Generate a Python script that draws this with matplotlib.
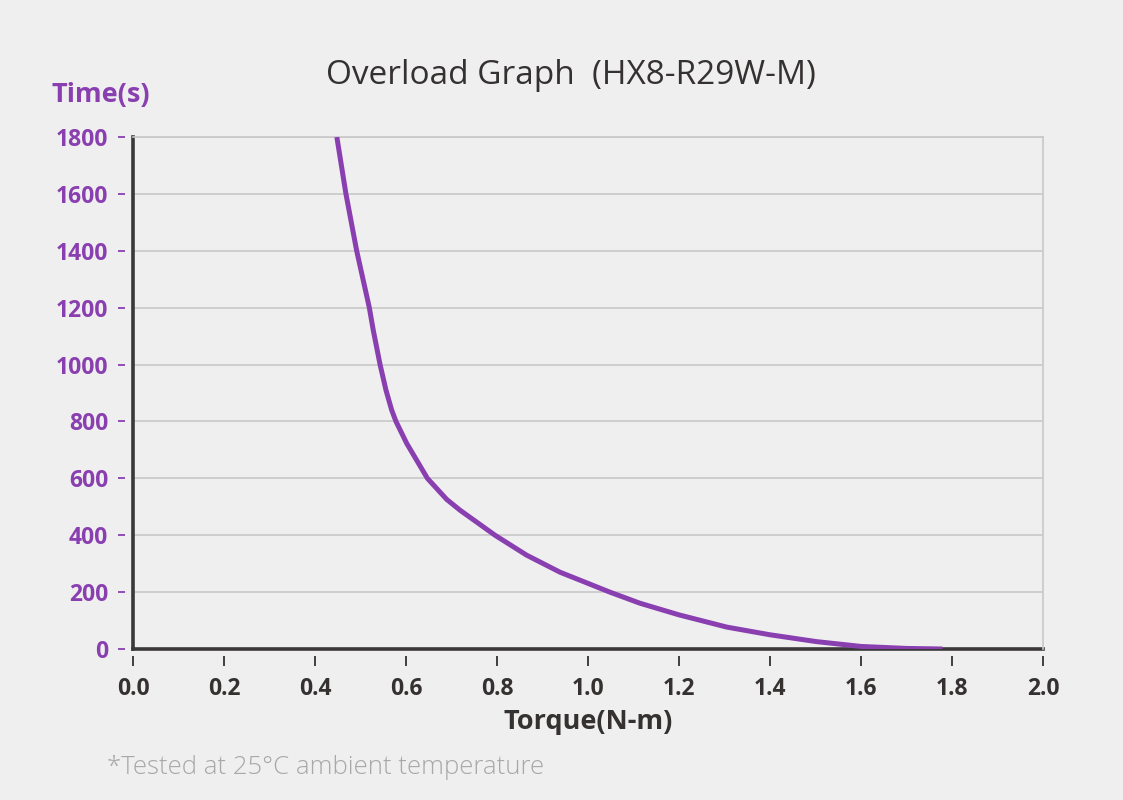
import matplotlib
matplotlib.use("Agg")
import matplotlib.pyplot as plt

# ---- data ----
torque = [0.448, 0.468, 0.4916, 0.5194, 0.528, 0.543, 0.556, 0.5685, 0.578,
          0.6015, 0.647, 0.6894, 0.7187, 0.7956, 0.865, 0.9385, 1.048, 1.114,
          1.200, 1.305, 1.400, 1.502, 1.600, 1.700, 1.779]
time_s = [1800, 1600, 1400, 1200, 1121, 1000, 910, 840, 800,
          723, 600, 526, 488, 400, 330, 270, 200, 161,
          120, 77, 50, 26, 9, 2, 0]

x_ticks = [0.0, 0.2, 0.4, 0.6, 0.8, 1.0, 1.2, 1.4, 1.6, 1.8, 2.0]
y_ticks = [0, 200, 400, 600, 800, 1000, 1200, 1400, 1600, 1800]

title = "Overload Graph  (HX8-R29W-M)"
xlabel = "Torque(N-m)"
ylabel = "Time(s)"
note = "*Tested at 25°C ambient temperature"

# ---- style ----
BG = "#efefef"
PURPLE = "#8a3fb0"
DARK = "#353131"
GRID = "#c8c8c8"
plt.rcParams['font.family'] = ['Open Sans', 'DejaVu Sans']

fig = plt.figure(figsize=(11.23, 8.0), dpi=100, facecolor=BG)
ax = fig.add_axes([133/1123, 1-649/800, (1043-133)/1123, (649-137)/800])
ax.set_facecolor(BG)

ax.set_xlim(0, 2.0)
ax.set_ylim(0, 1800)

ax.yaxis.grid(True, color=GRID, linewidth=1.2)
ax.set_axisbelow(True)

ax.spines['top'].set_color(GRID)
ax.spines['top'].set_linewidth(1.2)
ax.spines['right'].set_color(GRID)
ax.spines['right'].set_linewidth(1.2)
for s in ('left', 'bottom'):
    ax.spines[s].set_color('none')
ax.spines['bottom'].set_position(('outward', 5))
ax.spines['left'].set_position(('outward', 6))
ax.axhline(0, color="#3a3838", linewidth=2.6, zorder=2, clip_on=False)
ax.axvline(0, color="#3a3838", linewidth=2.6, zorder=2, clip_on=False)

ax.plot(torque, time_s, color=PURPLE, linewidth=3.6, solid_capstyle='butt',
        solid_joinstyle='round', zorder=3)

ax.set_xticks(x_ticks)
ax.set_xticklabels([f"{v:.1f}" for v in x_ticks])
ax.set_yticks(y_ticks)
ax.set_yticklabels([str(v) for v in y_ticks])

ax.tick_params(axis='x', direction='out', length=7, width=1.3, color=DARK,
               pad=8, labelsize=16.5, labelcolor=DARK)
ax.tick_params(axis='y', direction='out', length=5, width=1.3, color=PURPLE,
               pad=7, labelsize=16.5, labelcolor=PURPLE)
for lab in ax.get_xticklabels() + ax.get_yticklabels():
    lab.set_fontweight('bold')

ax.set_xlabel(xlabel, fontsize=19.5, fontweight='bold', color=DARK, labelpad=6)
fig.text(101/1123, 1-95/800, ylabel, fontsize=19.5, fontweight='bold', color=PURPLE,
         ha='center', va='center')

fig.text(571/1123, 1-75/800, title, fontsize=24, color=DARK, ha='center', va='center')
fig.text(107/1123, 1-768/800, note, fontsize=18.5, color="#a8a8a8", fontweight='light',
         ha='left', va='center')

fig.savefig("out.png", dpi=100, facecolor=BG)
